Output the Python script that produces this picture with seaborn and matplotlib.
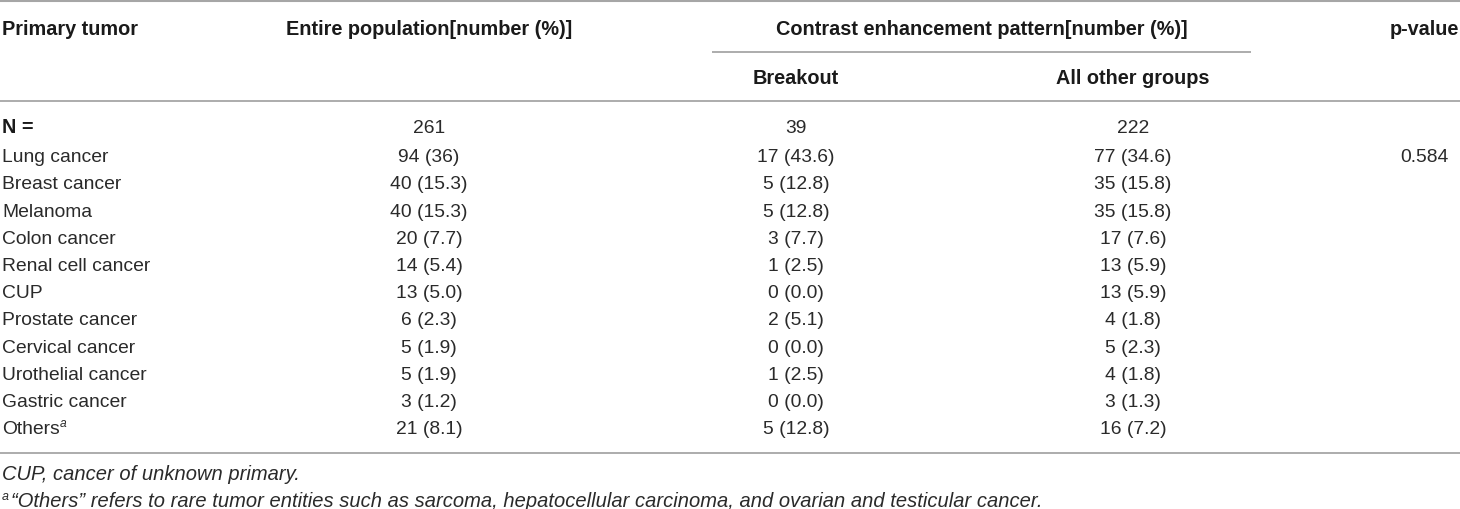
import matplotlib
matplotlib.use("Agg")
import matplotlib.pyplot as plt
import seaborn as sns
import pandas as pd

# ---- data ----
tumors = ["Lung cancer", "Breast cancer", "Melanoma", "Colon cancer", "Renal cell cancer",
          "CUP", "Prostate cancer", "Cervical cancer", "Urothelial cancer", "Gastric cancer", "Others"]
entire_n = [94, 40, 40, 20, 14, 13, 6, 5, 5, 3, 21]
entire_pct = ["36", "15.3", "15.3", "7.7", "5.4", "5.0", "2.3", "1.9", "1.9", "1.2", "8.1"]
breakout_n = [17, 5, 5, 3, 1, 0, 2, 0, 1, 0, 5]
breakout_pct = ["43.6", "12.8", "12.8", "7.7", "2.5", "0.0", "5.1", "0.0", "2.5", "0.0", "12.8"]
other_n = [77, 35, 35, 17, 13, 13, 4, 5, 4, 3, 16]
other_pct = ["34.6", "15.8", "15.8", "7.6", "5.9", "5.9", "1.8", "2.3", "1.8", "1.3", "7.2"]
totals = [261, 39, 222]
p_values = ["0.584"] + [""] * 10

col_headers = ["Primary tumor", "Entire population[number (%)]", "Contrast enhancement pattern[number (%)]", "p-value"]
sub_headers = ["Breakout", "All other groups"]
footnote1 = "CUP, cancer of unknown primary."
footnote2 = "\u201cOthers\u201d refers to rare tumor entities such as sarcoma, hepatocellular carcinoma, and ovarian and testicular cancer."

df = pd.DataFrame({
    "tumor": tumors,
    "entire": [f"{n} ({p})" for n, p in zip(entire_n, entire_pct)],
    "breakout": [f"{n} ({p})" for n, p in zip(breakout_n, breakout_pct)],
    "other": [f"{n} ({p})" for n, p in zip(other_n, other_pct)],
    "p": p_values,
})

# ---- style ----
sns.set_theme(style="white")
plt.rcParams["font.family"] = ["Liberation Sans", "DejaVu Sans"]

W, H = 1460, 509
fig = plt.figure(figsize=(W / 100, H / 100), dpi=100)
ax = fig.add_axes([0, 0, 1, 1])
ax.set_xlim(0, W)
ax.set_ylim(H, 0)
ax.axis("off")

FS = 13.9      # body
FSH = 14.3     # headers
FSF = 14.5     # footnotes
body_c = "#2a2a2a"
head_c = "#1a1a1a"
line_c = "#a6a6a6"

x_left = 2
x_cols = [429, 796, 1133, 1424]

# rules
ax.hlines(1.2, 0, W, color=line_c, lw=1.5)
ax.hlines(51.5, 712, 1251, color=line_c, lw=1.3)
ax.hlines(100.5, 0, W, color=line_c, lw=1.3)
ax.hlines(452.5, 0, W, color=line_c, lw=1.3)

# headers
hb1 = 35
hb2 = 84
ax.text(x_left, hb1, col_headers[0], ha="left", va="baseline", fontsize=FSH, fontweight="bold", color=head_c)
ax.text(x_cols[0], hb1, col_headers[1], ha="center", va="baseline", fontsize=FSH, fontweight="bold", color=head_c)
ax.text((712 + 1251) / 2, hb1, col_headers[2], ha="center", va="baseline", fontsize=FSH, fontweight="bold", color=head_c)
ax.text(x_cols[3], hb1, col_headers[3], ha="center", va="baseline", fontsize=FSH, fontweight="bold", color=head_c)
ax.text(x_cols[1], hb2, sub_headers[0], ha="center", va="baseline", fontsize=FSH, fontweight="bold", color=head_c)
ax.text(x_cols[2], hb2, sub_headers[1], ha="center", va="baseline", fontsize=FSH, fontweight="bold", color=head_c)

# N row
yN = 133
ax.text(x_left, yN, "N =", ha="left", va="baseline", fontsize=FSH, fontweight="bold", color=head_c)
for xc, t in zip(x_cols[:3], totals):
    ax.text(xc, yN, str(t), ha="center", va="baseline", fontsize=FS, color=body_c)

# body rows
fig.canvas.draw()
renderer = fig.canvas.get_renderer()
inv = ax.transData.inverted()
y0, step = 162.2, 27.2
for i, row in df.iterrows():
    y = y0 + step * i
    t = ax.text(x_left, y, row["tumor"], ha="left", va="baseline", fontsize=FS, color=body_c)
    if row["tumor"] == "Others":
        bb = t.get_window_extent(renderer)
        xr = inv.transform((bb.x1, bb.y0))[0]
        ax.text(xr, y - 7, "a", ha="left", va="baseline", fontsize=FS * 0.62,
                style="italic", color=body_c)
    ax.text(x_cols[0], y, row["entire"], ha="center", va="baseline", fontsize=FS, color=body_c)
    ax.text(x_cols[1], y, row["breakout"], ha="center", va="baseline", fontsize=FS, color=body_c)
    ax.text(x_cols[2], y, row["other"], ha="center", va="baseline", fontsize=FS, color=body_c)
    if row["p"]:
        ax.text(x_cols[3], y, row["p"], ha="center", va="baseline", fontsize=FS, color=body_c)

# footnotes
ax.text(x_left, 480, footnote1, ha="left", va="baseline", fontsize=FSF, style="italic", color=body_c)
ax.text(x_left, 500, "a", ha="left", va="baseline", fontsize=FSF * 0.62, style="italic", color=body_c)
ax.text(x_left + 9, 507, footnote2, ha="left", va="baseline", fontsize=FSF, style="italic", color=body_c)

fig.savefig("out.png", dpi=100, facecolor="white")
